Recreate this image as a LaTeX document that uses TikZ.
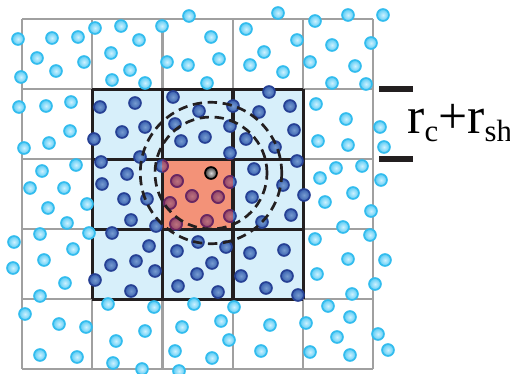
\documentclass[tikz,border=0pt]{standalone}
\usepackage{fontspec}
\setmainfont{Liberation Serif}
\usepackage{tikz}
\definecolor{cellblue}{RGB}{215,239,250}
\definecolor{cellred}{RGB}{243,146,120}
\definecolor{gridgray}{RGB}{160,160,160}
\definecolor{lineblack}{RGB}{35,31,32}
\definecolor{farrim}{RGB}{50,188,238}
\definecolor{farout}{RGB}{90,204,245}
\definecolor{farin}{RGB}{205,241,255}
\definecolor{nearrim}{RGB}{38,64,148}
\definecolor{nearout}{RGB}{58,98,176}
\definecolor{nearin}{RGB}{118,155,208}
\definecolor{homerim}{RGB}{110,36,94}
\definecolor{homeout}{RGB}{148,74,106}
\definecolor{homein}{RGB}{188,114,126}

% particles inside the 3x3 neighbour cells
\def\nearlist{100/107,135/103,122/132,145/127,94/139,140/157,
  173/97,199/111,233/106,175/124,230/126,181/141,205/137,230/153,
  269/92,259/112,290/106,246/139,294/130,275/147,297/161,
  101/162,127/174,102/184,124/199,147/199,131/220,156/226,112/233,162/166,
  177/181,192/196,218/197,230/182,170/203,176/224,207/221,230/216,
  254/169,283/185,304/195,252/197,291/215,262/222,
  149/246,111/265,136/261,155/271,95/280,131/291,
  198/242,226/247,177/251,212/263,197/274,178/286,218/292,
  250/253,284/250,241/276,287/276,266/288,298/295}

\begin{document}
\begin{tikzpicture}[x=0.142857mm, y=-0.142857mm,
    farball/.style={draw=farrim, line width=0.7pt, inner color=farin, outer color=farout},
    nearball/.style={draw=nearrim, line width=0.7pt, inner color=nearin, outer color=nearout},
    homeball/.style={draw=homerim, line width=0.7pt, inner color=homein, outer color=homeout},
    testball/.style={draw=black, line width=0.7pt, inner color=black!15, outer color=black!75},
    cutoff/.style={draw=lineblack, line width=1.1pt, dash pattern=on 3.8pt off 2.3pt}]
    \useasboundingbox (0,0) rectangle (510,373);
    % cells
    \fill[cellblue] (92.3,89.3) rectangle (303.2,299.3);
    \fill[cellred] (162.6,159.3) rectangle (232.9,229.3);
    \foreach \i in {0,...,5} {
        \draw[gridgray, line width=0.9pt] (22+70.25*\i,19.3) -- (22+70.25*\i,369.3);
        \draw[gridgray, line width=0.9pt] (22,19.3+70*\i) -- (373.3,19.3+70*\i);
    }
    \foreach \i in {0,...,3} {
        \draw[lineblack, line width=1.3pt] (92.3+70.3*\i,89.3) -- (92.3+70.3*\i,299.3);
        \draw[lineblack, line width=1.3pt] (92.3,89.3+70*\i) -- (303.2,89.3+70*\i);
    }
    % far particles
    \foreach \x/\y in {18/39,52/38,78/37,37/58,56/71,84/62,21/77,
        95/28,121/26,111/53,130/70,112/80,139/40,145/83,
        162/26,189/16,211/37,167/62,188/65,219/59,207/83,
        246/29,264/52,250/65,278/13,297/40,283/72,
        315/21,348/15,383/15,332/45,371/43,310/62,355/66,332/83,366/84,
        19/107,46/106,71/102,70/131,49/143,24/148,
        316/104,346/119,380/127,318/141,348/145,384/147,
        76/165,42/171,30/188,64/188,48/208,87/204,67/223,
        320/178,336/168,362/166,381/180,353/193,325/202,371/211,343/227,
        40/234,89/233,14/242,73/249,44/260,13/268,65/283,40/296,
        370/235,315/239,348/259,385/260,317/274,375/284,352/294,
        25/314,59/324,86/327,40/355,77/357,108/304,116/341,113/363,
        154/307,145/331,142/369,194/304,182/327,175/351,179/371,
        234/307,221/321,229/340,212/358,261/351,270/325,
        328/306,350/317,306/323,337/337,378/334,310/352,350/355,388/350}
        \shadedraw[farball] (\x,\y) circle (0.85mm);
    % near particles
    \foreach \x/\y in \nearlist
        \shadedraw[nearball] (\x,\y) circle (0.85mm);
    \begin{scope}
        \clip (162.6,159.3) rectangle (232.9,229.3);
        \foreach \x/\y in \nearlist
            \shadedraw[homeball] (\x,\y) circle (0.85mm);
    \end{scope}
    % test particle and cutoff spheres
    \coordinate (probe) at (211,173);
    \shadedraw[testball] (probe) circle (0.85mm);
    \draw[cutoff] (probe) circle (8mm);
    \draw[cutoff] (probe) circle (10.1mm);
    % r_c + r_sh marker
    \coordinate (bartop) at (379,89.3);
    \coordinate (barbot) at (379,159.3);
    \draw[lineblack, line width=2.4pt] (bartop) -- ++(34,0);
    \draw[lineblack, line width=2.4pt] (barbot) -- ++(34,0);
    \node[anchor=base west, inner sep=0pt] (rcut) at (407,133)
        {\fontsize{21}{21}\selectfont r\raisebox{-3.6pt}{\fontsize{12.5}{12.5}\selectfont c}+r\raisebox{-3.6pt}{\fontsize{12.5}{12.5}\selectfont sh}};
\end{tikzpicture}
\end{document}
